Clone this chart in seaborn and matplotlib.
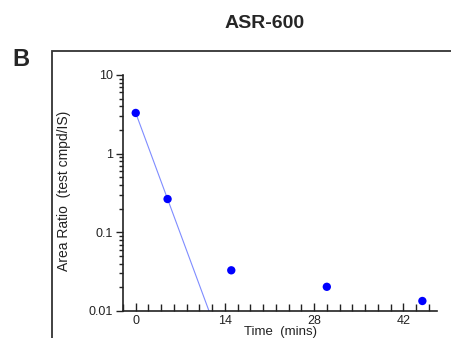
import numpy as np
import pandas as pd
import matplotlib.pyplot as plt
import seaborn as sns
from matplotlib.patches import Rectangle
from matplotlib.ticker import FixedLocator, FixedFormatter, MultipleLocator, LogLocator, NullFormatter

# data
time_min = [0, 5, 15, 30, 45]
area_ratio = [3.29, 0.265, 0.0329, 0.0203, 0.0134]
y_ticks = [0.01, 0.1, 1, 10]
y_tick_labels = ["0.01", "0.1", "1", "10"]
x_ticks = [0, 14, 28, 42]

df = pd.DataFrame({"time": time_min, "ratio": area_ratio})

# exponential fit through the first two points (drawn until it leaves the axes)
k, b = np.polyfit(df["time"][:2], np.log10(df["ratio"][:2]), 1)
t_fit = np.array([0, 13])
fit = pd.DataFrame({"time": t_fit, "ratio": 10 ** (k * t_fit + b)})

sns.set_style("ticks")
plt.rcParams["font.family"] = ["Liberation Sans", "DejaVu Sans"]

fig = plt.figure(figsize=(4.51, 3.38), dpi=100)
ax = fig.add_axes([0.2727, 0.0799, 0.6963, 0.6983])

sns.lineplot(data=fit, x="time", y="ratio", ax=ax, color="#7f8cff", linewidth=0.8)
sns.scatterplot(data=df, x="time", y="ratio", ax=ax, color="#0000ff", s=36,
                edgecolor="none", zorder=3, clip_on=False)

ax.set_yscale("log")
ax.set_ylim(0.01, 10)
ax.set_xlim(-2, 47.3)
ax.yaxis.set_major_locator(FixedLocator(y_ticks))
ax.yaxis.set_major_formatter(FixedFormatter(y_tick_labels))
ax.yaxis.set_minor_locator(LogLocator(base=10, subs=np.arange(2, 10)))
ax.yaxis.set_minor_formatter(NullFormatter())
ax.xaxis.set_major_locator(FixedLocator(x_ticks))
ax.xaxis.set_minor_locator(MultipleLocator(2))

ax.tick_params(axis="y", which="major", direction="out", length=5, width=1, labelsize=9, pad=2, colors="#222222")
ax.tick_params(axis="y", which="minor", direction="out", length=3, width=1, colors="#222222")
ax.tick_params(axis="x", which="major", direction="in", length=6, width=1, labelsize=9, pad=3, colors="#222222")
ax.tick_params(axis="x", which="minor", direction="in", length=5, width=1, colors="#222222")

sns.despine(ax=ax)
for s in ["left", "bottom"]:
    ax.spines[s].set_linewidth(1.2)
    ax.spines[s].set_color("#222222")

ax.set_ylabel("Area Ratio  (test cmpd/IS)", fontsize=10, color="#222222")
ax.yaxis.set_label_coords(-0.165, 0.51)
ax.set_xlabel("Time  (mins)", fontsize=9.5, color="#222222")
ax.xaxis.set_label_coords(0.5, -0.065)

# outer frame of the panel
fig.patches.append(Rectangle((52 / 451, -0.1), 1.2, 1 - 51 / 338 + 0.1, transform=fig.transFigure,
                             fill=False, edgecolor="#333333", linewidth=1.3))
fig.text(265 / 451, 1 - 24 / 338, "ASR-600", ha="center", va="center", fontsize=14, fontweight="bold")
fig.text(21 / 451, 1 - 60 / 338, "B", ha="center", va="center", fontsize=17, fontweight="bold")

fig.savefig("out.png", dpi=100)
